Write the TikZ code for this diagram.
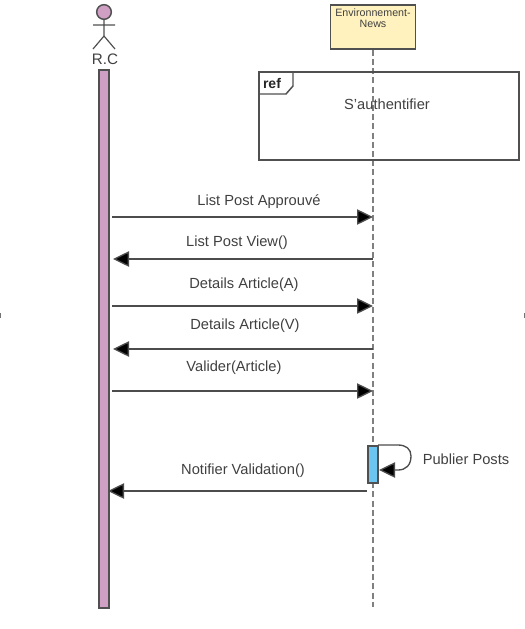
\documentclass[tikz,border=0pt]{standalone}
\usepackage{fontspec}
\setmainfont{Liberation Sans}
\usetikzlibrary{arrows.meta}
\definecolor{txt}{HTML}{404040}
\definecolor{edge}{HTML}{505050}
\definecolor{mauve}{HTML}{CFA0C4}
\definecolor{envfill}{HTML}{FFF2BE}
\definecolor{actbar}{HTML}{6CC5F0}
\tikzset{
  x=0.75pt,y=-0.75pt,
  msg/.style={draw=black!70,line width=1pt,-{Triangle[length=12pt,width=11.5pt,fill=black]}},
  lbl/.style={text=txt,font=\fontsize{11pt}{13pt}\selectfont,inner sep=0pt},
  boxline/.style={draw=edge,line width=1.2pt},
  life/.style={draw=black!50,line width=1pt,dash pattern=on 4.5pt off 2.4pt},
}
\begin{document}
\begin{tikzpicture}
\useasboundingbox (0,0) rectangle (525,629);
\fill[black!55] (0,313) rectangle (1.2,318);
\fill[black!55] (523.8,313) rectangle (525,318);
% actor
\node[circle,draw=edge,line width=1.1pt,fill=mauve,minimum size=11pt,inner sep=0pt] (head) at (104,12) {};
\coordinate (hip) at (104,36);
\coordinate (armL) at (93,25);
\coordinate (armR) at (115,25);
\coordinate (legL) at (93,49);
\coordinate (legR) at (115,49);
\draw[draw=edge,line width=0.9pt] (head.south) -- (hip) (armL) -- (armR) (legL) -- (hip) -- (legR);
\node[lbl,font=\fontsize{11.4pt}{13pt}\selectfont] (rc) at (105,59) {R.C};
\node[boxline,fill=mauve,minimum width=7.5pt,minimum height=403.5pt,inner sep=0pt,anchor=north] (bar) at (104,69) {};
% environment
\node[boxline,fill=envfill,minimum width=64pt,minimum height=33pt,inner sep=0pt] (env) at (373,27) {};
\node[text=txt,font=\fontsize{8pt}{8.3pt}\selectfont,align=center,inner sep=0pt] (envt) at (373,18.5) {Environnement-\\News};
\coordinate (lifeEnd) at (373,607);
\draw[life] (env.south) -- (lifeEnd);
% ref frame
\node[draw=edge,line width=1.2pt,minimum width=195pt,minimum height=66pt,inner sep=0pt,anchor=north west] (ref) at (258,71) {};
\coordinate (tagA) at (293,71);
\coordinate (tagB) at (293,86);
\coordinate (tagC) at (286,94);
\coordinate (tagD) at (258,94);
\draw[draw=edge,line width=1.1pt] (tagA) -- (tagB) -- (tagC) -- (tagD);
\node[font=\bfseries\fontsize{10.5pt}{12pt}\selectfont,inner sep=0pt,text=black!85] (reft) at (272,83) {ref};
\node[lbl] (auth) at (387,104) {S'authentifier};
% activation
\node[boxline,fill=actbar,minimum width=7.5pt,minimum height=28pt,inner sep=0pt,anchor=north] (act) at (373,445) {};
% lifeline anchors
\coordinate (a1) at (112,217); \coordinate (b1) at (373,217);
\coordinate (a2) at (113,259); \coordinate (b2) at (373,259);
\coordinate (a3) at (112,306); \coordinate (b3) at (373,306);
\coordinate (a4) at (113,349); \coordinate (b4) at (373,349);
\coordinate (a5) at (112,391); \coordinate (b5) at (373,391);
\coordinate (a6) at (108,491); \coordinate (b6) at (367,491);
\coordinate (s1) at (378,445); \coordinate (s2) at (379,470);
\draw[msg] (a1) -- (b1);
\draw[msg] (b2) -- (a2);
\draw[msg] (a3) -- (b3);
\draw[msg] (b4) -- (a4);
\draw[msg] (a5) -- (b5);
\draw[msg] (b6) -- (a6);
\draw[msg] (s1) -- (398,445) .. controls (406,445) and (411,449) .. (411,456) .. controls (411,465) and (406,470) .. (398,470) -- (s2);
\node[lbl] (m1) at (259,202) {List Post Approuvé};
\node[lbl] (m2) at (237,243) {List Post View()};
\node[lbl] (m3) at (244,285) {Details Article(A)};
\node[lbl] (m4) at (245,326) {Details Article(V)};
\node[lbl] (m5) at (234,368) {Valider(Article)};
\node[lbl] (m6) at (243,471) {Notifier Validation()};
\node[lbl] (m7) at (466,459) {Publier Posts};
\end{tikzpicture}
\end{document}
